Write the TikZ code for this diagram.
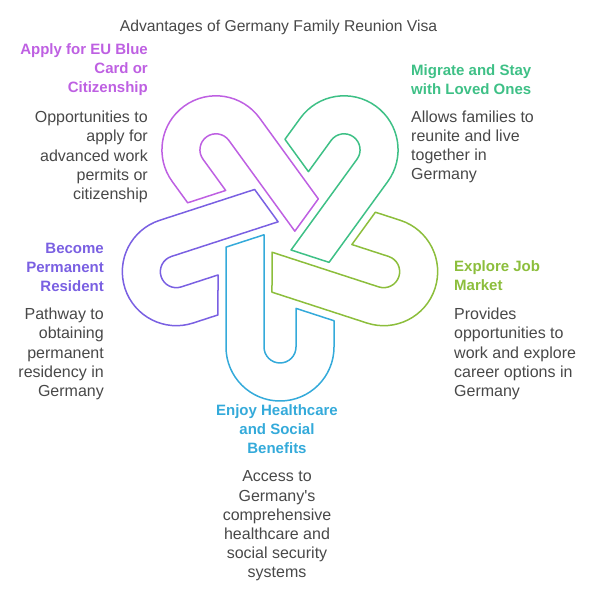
\documentclass[tikz,border=0pt]{standalone}
\usepackage{fontspec}
\setmainfont{Liberation Sans}
\usepackage{xcolor}
\usetikzlibrary{calc}
\definecolor{apply}{RGB}{190,96,226}
\definecolor{migrate}{RGB}{62,192,134}
\definecolor{explore}{RGB}{140,190,60}
\definecolor{enjoy}{RGB}{52,170,218}
\definecolor{become}{RGB}{122,96,226}
\definecolor{txt}{RGB}{72,72,72}

\begin{document}
\begin{tikzpicture}[x=1pt,y=1pt,
        head/.style={font=\fontsize{15}{19}\selectfont\bfseries,inner sep=0pt},
        body/.style={font=\fontsize{16}{19.2}\selectfont,text=txt,inner sep=0pt}]
    \useasboundingbox (0,0) rectangle (594,600);
    \coordinate (C) at (280,362);
    % the five hooks: one outline, turned by 72 degrees each time
    \foreach \ang/\col in {0/enjoy,72/explore,144/migrate,216/apply,288/become}{
        \begin{scope}[shift={(C)},rotate=\ang]
            \draw[\col,line width=1.5pt,line join=round]
                (-54,-9.13) -- (-16,3.21) -- (-16,-109)
                arc[start angle=180,end angle=360,radius=16]
                -- (16,-70.39) -- (54,-82.74) -- (54,-109)
                arc[start angle=0,end angle=-180,radius=54] -- cycle;
        \end{scope}
    }
    \node (title) at (278.5,573) [font=\fontsize{15.7}{19}\selectfont,text=txt,inner sep=0pt] {Advantages of Germany Family Reunion Visa};
    % left side
    \node (applyhead) at (148,530) [head,text=apply,align=right,anchor=east] {Apply for EU Blue\\Card or\\Citizenship};
    \node (applybody) at (148,443) [body,align=right,anchor=east] {Opportunities to\\apply for\\advanced work\\permits or\\citizenship};
    \node (becomehead) at (104,333) [head,text=become,align=right,anchor=east] {Become\\Permanent\\Resident};
    \node (becomebody) at (104,246) [body,align=right,anchor=east] {Pathway to\\obtaining\\permanent\\residency in\\Germany};
    % right side
    \node (migratehead) at (411,520.5) [head,text=migrate,align=left,anchor=west] {Migrate and Stay\\with Loved Ones};
    \node (migratebody) at (411,453) [body,align=left,anchor=west] {Allows families to\\reunite and live\\together in\\Germany};
    \node (explorehead) at (454,324) [head,text=explore,align=left,anchor=west] {Explore Job\\Market};
    \node (explorebody) at (454,246) [body,align=left,anchor=west] {Provides\\opportunities to\\work and explore\\career options in\\Germany};
    % bottom
    \node (enjoyhead) at (277,171) [head,text=enjoy,align=center] {Enjoy Healthcare\\and Social\\Benefits};
    \node (enjoybody) at (277,74) [body,align=center] {Access to\\Germany\textquotesingle s\\comprehensive\\healthcare and\\social security\\systems};
\end{tikzpicture}
\end{document}
